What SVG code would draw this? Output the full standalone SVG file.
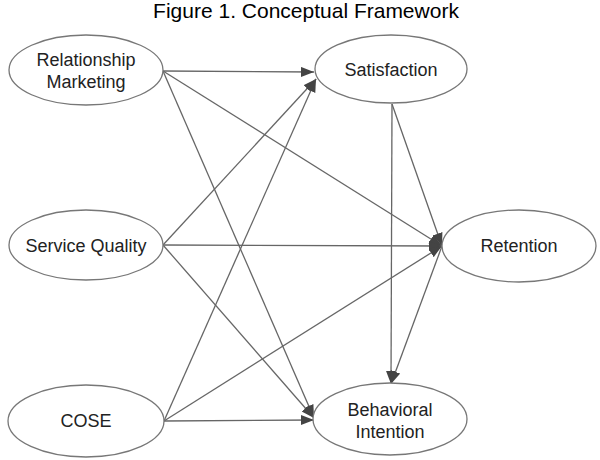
<svg xmlns="http://www.w3.org/2000/svg" width="600" height="460" viewBox="0 0 600 460">
<style>
.node ellipse{fill:#fff;stroke:#777;stroke-width:1.3}
.node text{font-family:"Liberation Sans",Arial,sans-serif;font-size:18px;fill:#222;text-anchor:middle}
.title{font-family:"Liberation Sans",Arial,sans-serif;font-size:21px;fill:#000;text-anchor:middle}
#connectors line{stroke:#666;stroke-width:1.3;marker-end:url(#ah)}
</style>
<defs>
<marker id="ah" markerUnits="userSpaceOnUse" markerWidth="14" markerHeight="12" refX="13" refY="5" orient="auto">
<path d="M0,0 L13,5 L0,10 Z" fill="#444"/>
</marker>
</defs>
<rect width="600" height="460" fill="#fff"/>
<text class="title" x="306" y="18">Figure 1. Conceptual Framework</text>
<g id="connectors">
<line x1="163" y1="71" x2="314" y2="72"/>
<line x1="163" y1="71" x2="442" y2="246"/>
<line x1="163" y1="71" x2="314" y2="418"/>
<line x1="163" y1="245" x2="316" y2="79"/>
<line x1="163" y1="245" x2="442" y2="246"/>
<line x1="163" y1="245" x2="314" y2="418"/>
<line x1="164" y1="421" x2="316" y2="79"/>
<line x1="164" y1="421" x2="442" y2="246"/>
<line x1="164" y1="421" x2="314" y2="420"/>
<line x1="392" y1="104" x2="442" y2="246"/>
<line x1="392" y1="104" x2="391" y2="384"/>
<line x1="442" y1="246" x2="391" y2="384"/>
</g>
<g id="rm" class="node"><ellipse cx="86" cy="70" rx="77" ry="35"/><text x="86" y="66">Relationship</text><text x="86" y="88">Marketing</text></g>
<g id="sat" class="node"><ellipse cx="391" cy="69" rx="76" ry="34"/><text x="391" y="76">Satisfaction</text></g>
<g id="sq" class="node"><ellipse cx="86" cy="245" rx="77" ry="35"/><text x="86" y="252">Service Quality</text></g>
<g id="ret" class="node"><ellipse cx="519" cy="246" rx="77" ry="36"/><text x="519" y="252">Retention</text></g>
<g id="cose" class="node"><ellipse cx="86" cy="421" rx="78" ry="36"/><text x="86" y="427">COSE</text></g>
<g id="bi" class="node"><ellipse cx="390" cy="419" rx="77" ry="36"/><text x="390" y="416">Behavioral</text><text x="390" y="438">Intention</text></g>
</svg>
